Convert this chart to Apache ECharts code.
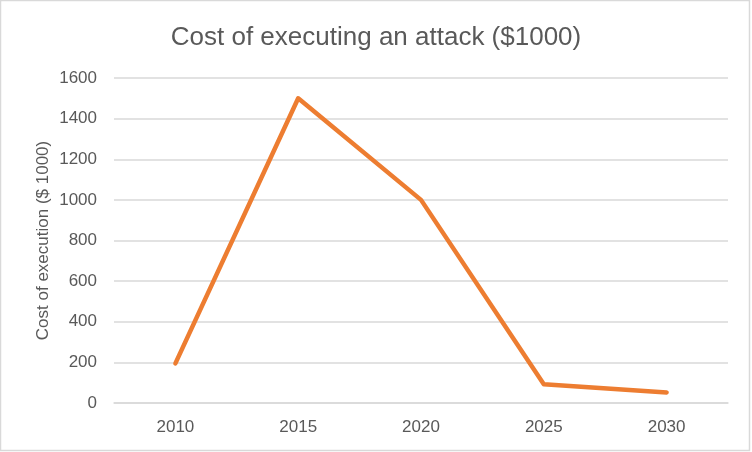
<!DOCTYPE html>
<html>
<head>
<meta charset="utf-8">
<script src="https://cdn.jsdelivr.net/npm/echarts@6/dist/echarts.min.js"></script>
<style>
html,body{margin:0;padding:0;background:#fff;}
#chart{width:752px;height:452px;}
</style>
</head>
<body>
<div id="chart"></div>
<script>
const titleText = "Cost of executing an attack ($1000)";
const yAxisName = "Cost of execution ($ 1000)";
const categories = ["2010", "2015", "2020", "2025", "2030"];
const costValues = [195, 1500, 1000, 92, 52];
const yMin = 0, yMax = 1600, yStep = 200;

const chart = echarts.init(document.getElementById('chart'), null, {renderer: 'canvas'});
chart.setOption({
  backgroundColor: '#ffffff',
  animation: false,
  title: {
    text: titleText,
    left: 'center',
    top: 20,
    textStyle: {fontFamily: 'Liberation Sans', fontSize: 26, fontWeight: 'normal', color: '#595959'}
  },
  graphic: [{
    type: 'rect',
    shape: {x: 0.5, y: 0.5, width: 749, height: 450},
    style: {fill: 'none', stroke: '#d9d9d9', lineWidth: 1.5},
    silent: true
  }],
  grid: {left: 114, right: 24, top: 78, bottom: 49, containLabel: false},
  xAxis: {
    type: 'category',
    data: categories,
    boundaryGap: true,
    axisLine: {show: true, lineStyle: {color: '#d9d9d9', width: 1.5}},
    axisTick: {show: false},
    axisLabel: {color: '#595959', fontSize: 17, fontFamily: 'Liberation Sans', margin: 16}
  },
  yAxis: {
    type: 'value',
    min: yMin, max: yMax, interval: yStep,
    name: yAxisName,
    nameLocation: 'middle',
    nameGap: 62,
    nameMoveOverlap: false,
    nameTextStyle: {color: '#595959', fontSize: 17, fontFamily: 'Liberation Sans'},
    axisLine: {show: false},
    axisTick: {show: false},
    splitLine: {lineStyle: {color: '#d9d9d9', width: 1.5}},
    axisLabel: {color: '#595959', fontSize: 17, fontFamily: 'Liberation Sans', margin: 17,
      formatter: function (v) { return String(v); }}
  },
  series: [{
    type: 'line',
    data: costValues,
    symbol: 'none',
    lineStyle: {color: '#ED7D31', width: 4.5, cap: 'round', join: 'round'},
    itemStyle: {color: '#ED7D31'}
  }]
});
</script>
</body>
</html>
